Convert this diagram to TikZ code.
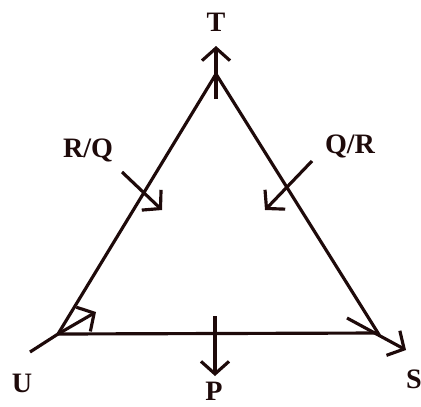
\documentclass[tikz,border=0pt]{standalone}
\usepackage{fontspec}
\setmainfont{Liberation Serif}
\usepackage{tikz}
\usetikzlibrary{arrows.meta}
\definecolor{ink}{HTML}{1E0A0A}

\begin{document}
\begin{tikzpicture}[x=0.02cm, y=-0.02cm,
        lbl/.style = {font=\bfseries\fontsize{16}{18}\selectfont, text=ink, inner sep=0pt},
        edge/.style = {draw=ink, line width=1.8pt},
        force/.style = {edge, -{Straight Barb[length=2.5mm,width=5.6mm]}}]
        \useasboundingbox (0,0) rectangle (421,406);
        \coordinate (T) at (216,74);
        \coordinate (U) at (58,334);
        \coordinate (S) at (378,333);
        \coordinate (uTail) at (30,352);
        \coordinate (uTip) at (96,312);
        \coordinate (tTail) at (216,99);
        \coordinate (tTip) at (216,46);
        \coordinate (pTail) at (215,316);
        \coordinate (pTip) at (215,376);
        \coordinate (sTail) at (347,318);
        \coordinate (sTip) at (406,350);
        \coordinate (rqTail) at (122,172);
        \coordinate (rqTip) at (162,210);
        \coordinate (qrTail) at (312,161);
        \coordinate (qrTip) at (265,210);
        \node[lbl] (tLabel) at (216,22) {T};
        \node[lbl] (uLabel) at (22,383) {U};
        \node[lbl] (pLabel) at (214,391) {P};
        \node[lbl] (sLabel) at (414,379) {S};
        \node[lbl] (rqLabel) at (88,150) {R/Q};
        \node[lbl] (qrLabel) at (350,146) {Q/R};
        \draw[edge] (U) -- (T) -- (S) -- (U);
        \draw[edge] (uTail) -- (U);
        \draw[force] (U) -- (uTip);
        \draw[force] (tTail) -- (tTip);
        \draw[force] (pTail) -- (pTip);
        \draw[force] (sTail) -- (sTip);
        \draw[force] (rqTail) -- (rqTip);
        \draw[force] (qrTail) -- (qrTip);
      \end{tikzpicture}
\end{document}
